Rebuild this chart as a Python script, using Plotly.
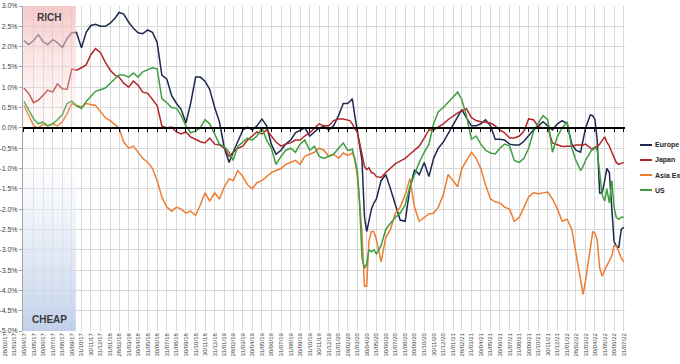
import pandas as pd
import plotly.graph_objects as go

# ---------------- data ----------------
# semi-monthly observation dates (15th and month end) plus extra dates around sharp moves
base_dates = [pd.Timestamp("2017-04-30")]
for p in pd.period_range("2017-05", "2022-07", freq="M"):
    first = pd.Timestamp(year=p.year, month=p.month, day=1)
    base_dates.append(first + pd.Timedelta(days=14))
    base_dates.append(first + pd.offsets.MonthEnd(1))
extra_dates = ["2020-03-07", "2020-03-23", "2020-04-07", "2020-04-23", "2020-05-07", "2020-05-23",
               "2022-03-23", "2022-04-23", "2022-05-07", "2022-05-23", "2022-06-07", "2022-06-23",
               "2022-07-07", "2022-07-23"]
dates = sorted(base_dates + [pd.Timestamp(d) for d in extra_dates])

europe = [
    2.15, 2.05, 2.15, 2.30, 2.12, 2.05, 2.17, 2.10, 1.98, 2.20, 2.34, 2.35,
    1.97, 2.35, 2.52, 2.55, 2.50, 2.50, 2.58, 2.70, 2.84, 2.80, 2.60, 2.45,
    2.34, 2.32, 2.41, 2.35, 2.10, 1.30, 1.20, 0.80, 0.60, 0.45, 0.12, 0.60,
    1.25, 1.25, 1.15, 0.95, 0.50, 0.15, -0.50, -0.85, -0.60, -0.35, -0.05, 0.02,
    -0.05, 0.05, 0.22, 0.05, -0.40, -0.65, -0.55, -0.40, -0.30, -0.12, -0.05, 0.00,
    -0.20, -0.10, 0.00, 0.03, -0.05, 0.05, 0.30, 0.60, 0.60,
    0.65, 0.72, 0.30, -0.10, -0.45, -0.80, -2.20, -2.55, -2.30, -2.00, -1.85, -1.75,
    -1.30, -1.15, -1.50, -1.90, -2.27, -2.30, -1.50, -1.03, -1.15, -0.85, -1.20, -0.75,
    -0.50, -0.35, -0.15, 0.07, 0.27, 0.45, 0.25, 0.05, 0.05, 0.10, 0.20, 0.05,
    -0.28, -0.28, -0.30, -0.40, -0.42, -0.42, -0.33, -0.20, -0.05, 0.05, 0.15, 0.05,
    -0.05, 0.10, 0.18, 0.10, -0.40, -0.55,
    -0.60, -0.30, 0.00, 0.32, 0.30, 0.20, -0.30, -1.60, -1.60, -1.30, -1.00, -1.10,
    -1.90, -2.80, -2.90, -2.95, -2.50, -2.45,
]
japan = [
    0.98, 0.85, 0.62, 0.68, 0.80, 0.93, 0.88, 1.08, 0.96, 0.95, 1.45, 1.42,
    1.48, 1.55, 1.80, 1.95, 1.85, 1.62, 1.42, 1.30, 1.25, 1.10, 1.00, 1.15,
    1.05, 0.88, 0.85, 0.70, 0.55, 0.05, 0.00, 0.02, -0.10, -0.15, -0.10, -0.22,
    -0.28, -0.34, -0.37, -0.25, -0.40, -0.42, -0.50, -0.70, -0.60, -0.50, -0.45, -0.30,
    -0.20, -0.10, -0.15, -0.05, -0.20, -0.35, -0.45, -0.40, -0.37, -0.30, -0.30, -0.20,
    -0.12, 0.00, 0.10, 0.05, 0.05, 0.18, 0.22, 0.22, 0.20,
    0.18, 0.10, -0.02, -0.10, -0.35, -0.70, -0.95, -1.03, -0.98, -1.10, -1.12, -1.20,
    -1.22, -1.10, -1.00, -0.88, -0.82, -0.75, -0.65, -0.55, -0.45, -0.25, -0.05, -0.05,
    0.02, 0.10, 0.20, 0.30, 0.37, 0.42, 0.47, 0.25, 0.18, 0.15, 0.13, 0.12,
    0.05, -0.05, -0.12, -0.25, -0.25, -0.20, -0.08, 0.22, 0.20, 0.03, 0.00, 0.00,
    -0.37, -0.42, -0.46, -0.45, -0.45, -0.42,
    -0.42, -0.42, -0.40, -0.50, -0.54, -0.47, -0.46, -0.40, -0.32, -0.22, -0.35, -0.45,
    -0.60, -0.72, -0.85, -0.90, -0.88, -0.85,
]
asia_ex = [
    0.55, 0.30, 0.05, 0.00, 0.10, 0.05, 0.10, 0.05, 0.15, 0.35, 0.60, 0.55,
    0.52, 0.60, 0.57, 0.55, 0.40, 0.25, 0.18, 0.08, 0.00, -0.35, -0.50, -0.45,
    -0.60, -0.75, -0.85, -1.00, -1.30, -1.70, -1.95, -2.05, -1.95, -2.00, -2.10, -2.05,
    -2.15, -1.90, -1.60, -1.80, -1.60, -1.75, -1.45, -1.25, -1.30, -1.05, -1.20, -1.40,
    -1.50, -1.35, -1.30, -1.20, -1.10, -1.05, -1.00, -0.90, -0.85, -0.80, -0.90, -0.70,
    -0.65, -0.60, -0.50, -0.55, -0.70, -0.65, -0.75, -0.62, -0.68,
    -0.65, -0.62, -0.75, -1.20, -1.80, -2.60, -3.90, -3.90, -2.80, -2.55, -2.55, -2.75,
    -3.30, -2.70, -2.50, -2.10, -1.95, -1.65, -1.25, -1.95, -2.30, -2.20, -2.12, -2.10,
    -1.95, -1.65, -1.15, -1.30, -1.45, -1.00, -0.80, -0.60, -0.75, -1.00, -1.40, -1.75,
    -1.82, -1.85, -1.95, -2.00, -2.30, -2.20, -1.95, -1.70, -1.60, -1.62, -1.60, -1.58,
    -1.75, -2.00, -2.30, -2.25, -2.50, -3.10,
    -3.75, -4.10, -3.75, -2.95, -2.55, -2.60, -2.75, -3.45, -3.65, -3.50, -3.40, -3.30,
    -3.15, -2.90, -2.90, -3.05, -3.20, -3.30,
]
us = [
    0.65, 0.45, 0.22, 0.10, 0.15, 0.05, 0.10, 0.20, 0.33, 0.60, 0.66, 0.55,
    0.48, 0.65, 0.78, 0.90, 0.94, 0.98, 1.10, 1.20, 1.30, 1.30, 1.25, 1.35,
    1.25, 1.38, 1.43, 1.48, 1.45, 0.72, 0.62, 0.50, 0.48, 0.30, 0.05, -0.12,
    -0.08, 0.00, 0.20, 0.10, -0.15, -0.40, -0.46, -0.60, -0.80, -0.45, -0.35, -0.25,
    -0.30, -0.20, 0.00, -0.30, -0.50, -0.90, -0.70, -0.55, -0.50, -0.60, -0.40, -0.30,
    -0.55, -0.45, -0.70, -0.75, -0.70, -0.65, -0.50, -0.37, -0.55,
    -0.55, -0.52, -0.80, -1.05, -1.80, -3.20, -3.45, -3.35, -3.00, -3.05, -3.00, -3.10,
    -2.90, -2.50, -2.35, -2.20, -2.10, -1.90, -1.45, -1.15, -0.85, -0.60, -0.40, 0.10,
    0.40, 0.50, 0.62, 0.75, 0.88, 0.70, 0.30, -0.28, -0.20, -0.40, -0.55, -0.62,
    -0.64, -0.50, -0.40, -0.45, -0.80, -0.85, -0.75, -0.50, -0.10, 0.12, 0.30, 0.20,
    -0.60, -0.20, 0.00, 0.15, -0.50, -0.80,
    -1.05, -0.95, -0.80, -0.60, -0.50, -0.48, -0.55, -1.10, -1.65, -1.80, -1.50, -1.85,
    -1.30, -1.95, -2.20, -2.25, -2.20, -2.20,
]

series_names = ["Europe", "Japan", "Asia Ex", "US"]
series_values = [europe, japan, asia_ex, us]
series_colors = ["#1c2a4f", "#b0282a", "#ed7d31", "#3f9f3f"]

# axis ticks / labels
tick_dates = list(pd.date_range("2017-02-28", periods=66, freq=pd.offsets.MonthEnd()))
tick_labels = [d.strftime("%d/%m/%y") for d in tick_dates]
y_ticks = [3.0 - 0.5 * i for i in range(17)]
y_tick_labels = [f"{v:.1f}%" for v in y_ticks]

# shaded "RICH"/"CHEAP" zones
zone_start = "2017-04-27"
zone_end = "2017-10-13"
zone_label_x = "2017-07-20"

# ---------------- layout geometry ----------------
W, H = 680, 364
plot_left, plot_right = 23, 625
x_start, x_end = pd.Timestamp("2017-04-27"), pd.Timestamp("2022-08-04")
span = x_end - x_start
label_start = x_start - span * (plot_left / (plot_right - plot_left))
fmt = "%Y-%m-%d %H:%M:%S"

fig = go.Figure()

for name, vals, col in zip(series_names, series_values, series_colors):
    fig.add_trace(go.Scatter(x=dates, y=vals, name=name, mode="lines",
                             line=dict(color=col, width=1.5), hoverinfo="skip"))

# RICH zone (semi-transparent overlay on top of lines)
fig.add_trace(go.Scatter(
    x=[zone_start, zone_end, zone_end, zone_start, zone_start], y=[0, 0, 3, 3, 0],
    mode="lines", line=dict(width=0), fill="toself", showlegend=False, hoverinfo="skip",
    fillgradient=dict(type="vertical", start=0, stop=3,
                      colorscale=[[0, "rgba(252,228,228,0.12)"], [1, "rgba(243,188,188,0.8)"]])))
# CHEAP zone
fig.add_trace(go.Scatter(
    x=[zone_start, zone_end, zone_end, zone_start, zone_start], y=[-5, -5, 0, 0, -5],
    mode="lines", line=dict(width=0), fill="toself", showlegend=False, hoverinfo="skip",
    fillgradient=dict(type="vertical", start=-5, stop=0,
                      colorscale=[[0, "rgba(190,206,232,0.95)"], [0.55, "rgba(226,233,245,0.6)"],
                                  [1, "rgba(255,255,255,0)"]])))

# helper traces so that the label axis and the zero-line axis exist
fig.add_trace(go.Scatter(x=tick_dates, y=[None] * len(tick_dates), xaxis="x2", yaxis="y2",
                         showlegend=False, hoverinfo="skip"))
fig.add_trace(go.Scatter(x=tick_dates, y=[None] * len(tick_dates), xaxis="x3", yaxis="y",
                         showlegend=False, hoverinfo="skip"))

font_main = "Liberation Sans"

fig.update_layout(
    width=W, height=H, template="none",
    margin=dict(l=0, r=0, t=6, b=33),
    paper_bgcolor="white", plot_bgcolor="rgba(0,0,0,0)",
    showlegend=False,
    font=dict(family=font_main, size=7, color="#404040"),
    xaxis=dict(domain=[plot_left / W, plot_right / W], type="date",
               range=[x_start.strftime(fmt), x_end.strftime(fmt)],
               tickvals=tick_dates, showticklabels=False, ticks="",
               showgrid=True, gridcolor="#d9d9d9", gridwidth=1,
               showline=False, zeroline=False, anchor="y", automargin=False),
    yaxis=dict(domain=[0, 1], range=[-5, 3], tickvals=y_ticks, ticktext=y_tick_labels,
               showgrid=True, gridcolor="#d9d9d9", gridwidth=1,
               showline=True, linecolor="#a6a6a6", linewidth=1,
               ticks="outside", ticklen=3, tickcolor="#a6a6a6",
               tickfont=dict(size=7, color="#404040"),
               zeroline=False, anchor="x", automargin=False),
    xaxis2=dict(domain=[0, plot_right / W], type="date",
                range=[label_start.strftime(fmt), x_end.strftime(fmt)],
                tickvals=tick_dates, ticktext=tick_labels, tickangle=-90,
                tickfont=dict(size=6, color="#404040"), ticks="",
                showgrid=False, showline=False, zeroline=False, anchor="y2", automargin=False),
    yaxis2=dict(domain=[0, 1], range=[-5, 3], anchor="x2", visible=False, showgrid=False),
    xaxis3=dict(overlaying="x", anchor="free", position=0.625, type="date",
                range=[x_start.strftime(fmt), x_end.strftime(fmt)],
                tickvals=tick_dates, showticklabels=False, ticks="outside", ticklen=3,
                tickcolor="#000000", tickwidth=1, showline=True, linecolor="#000000",
                linewidth=1.5, showgrid=False, zeroline=False, automargin=False),
)

# zone labels
fig.add_annotation(x=zone_label_x, y=2.72, xref="x", yref="y", text="RICH", showarrow=False,
                   font=dict(family=font_main, size=10, color="#3a3a3a", weight="bold"))
fig.add_annotation(x=zone_label_x, y=-4.72, xref="x", yref="y", text="CHEAP", showarrow=False,
                   font=dict(family=font_main, size=10, color="#3a3a3a", weight="bold"))

# legend (drawn at the right, like the original)
legend_y_px = [145, 160, 175, 190]
plot_h = H - 6 - 33
for name, col, py in zip(series_names, series_colors, legend_y_px):
    yf = (H - 33 - py) / plot_h
    fig.add_shape(type="line", xref="paper", yref="paper", x0=640 / W, x1=652 / W, y0=yf, y1=yf,
                  line=dict(color=col, width=2))
    fig.add_annotation(x=653 / W, y=yf, xref="paper", yref="paper", text=name, showarrow=False,
                       xanchor="left", yanchor="middle",
                       font=dict(family=font_main, size=7, color="#262626", weight="bold"))

fig.write_html("out.html", config={"displayModeBar": False},
               post_script="document.body.style.margin='0px';document.body.style.padding='0px';")
